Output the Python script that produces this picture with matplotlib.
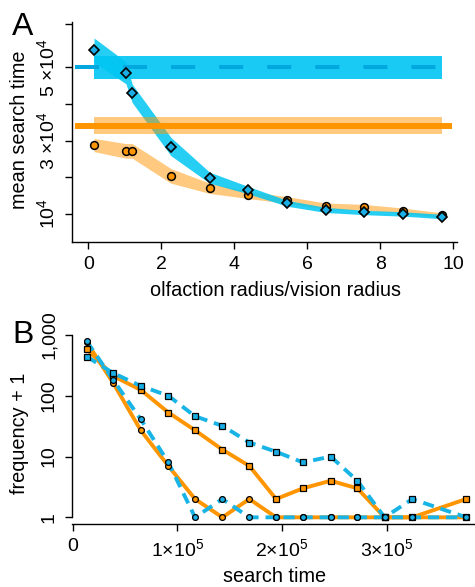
import matplotlib
matplotlib.use('Agg')
import matplotlib.pyplot as plt
from matplotlib.ticker import NullLocator

plt.rcParams['font.family'] = ['Liberation Sans', 'DejaVu Sans']
plt.rcParams['mathtext.fontset'] = 'custom'
plt.rcParams['mathtext.rm'] = 'Liberation Sans'
plt.rcParams['mathtext.it'] = 'Liberation Sans:italic'
plt.rcParams['mathtext.bf'] = 'Liberation Sans:bold'
plt.rcParams['lines.scale_dashes'] = False
plt.rcParams['axes.linewidth'] = 1.0

# ---------------- Panel A data (mean search time, units of 1e4) ----------------
ratio = [0.155, 1.03, 1.2, 2.26, 3.32, 4.38, 5.45, 6.5, 7.56, 8.63, 9.68]
diamond_mean = [5.47, 4.85, 4.29, 2.84, 1.99, 1.65, 1.29, 1.11, 1.04, 1.00, 0.93]
diamond_hw = [0.33, 0.30, 0.25, 0.25, 0.15, 0.10, 0.08, 0.07, 0.06, 0.06, 0.06]
circle_mean = [2.88, 2.72, 2.72, 2.04, 1.70, 1.52, 1.38, 1.22, 1.18, 1.09, 0.97]
circle_hw = [0.18, 0.20, 0.20, 0.20, 0.14, 0.10, 0.09, 0.08, 0.08, 0.07, 0.06]
blue_ref = 5.0
blue_ref_lo, blue_ref_hi = 4.68, 5.32
orange_ref = 3.41
orange_ref_lo, orange_ref_hi = 3.17, 3.65
ref_line_x = [-0.37, 9.95]
A_yticks = [1, 2, 3, 4, 5, 6.18]
A_yticklabels = [r'$\mathregular{10^{4}}$', '', r'$\mathregular{3\ {\times}10^{4}}$', '',
                 r'$\mathregular{5\ {\times}10^{4}}$', '']
A_xticks = [0, 2, 4, 6, 8, 10]

# ---------------- Panel B data (frequency + 1 vs search time, x in 1e5) ----------------
search_time = [0.134, 0.389, 0.65, 0.914, 1.169, 1.43, 1.688, 1.943, 2.20, 2.465, 2.72, 2.98, 3.245, 3.76]
blue_squares = [440, 235, 145, 100, 46, 32, 17, 12, 8, 10, 4, 1, 2, 1]
orange_squares = [590, 210, 125, 53, 27, 13, 7, 2, 3, 4, 3, 1, 1, 2]
orange_circles = [760, 160, 27, 7, 2, 1, 2, 1, 1, 1, 1, 1, 1, 1]
blue_circles = [790, 180, 41, 8, 1, 2, 1, 1, 1, 1, 1, 1, 1, 1]
B_xticks = [0, 1, 2, 3]
B_xticklabels = ['0', r'$\mathregular{1{\times}10^{5}}$', r'$\mathregular{2{\times}10^{5}}$',
                 r'$\mathregular{3{\times}10^{5}}$']
B_yticks = [1, 10, 100, 1000]
B_yticklabels = ['1', '10', '100', '1,000']

BLUE = '#00c6f3'
BLUE_DASH = '#00a8df'
BLUE_MK = '#1aaee4'
ORANGE = '#ff9500'
BLUE_B = '#19b4e6'

TICK_FS = 14
LABEL_FS = 14.3

W, H = 475, 587
fig = plt.figure(figsize=(W / 100, H / 100), dpi=100)

def frac(l, t, r, b):
    return [l / W, 1 - b / H, (r - l) / W, (b - t) / H]

# ================= Panel A =================
ax = fig.add_axes(frac(71.7, 21.5, 456.7, 242.3))
xr = [ratio[0], ratio[-1]]
ax.fill_between(xr, [blue_ref_lo] * 2, [blue_ref_hi] * 2, color=BLUE, alpha=0.9, lw=0, zorder=1)
ax.fill_between(ratio, [m - h for m, h in zip(circle_mean, circle_hw)],
                [m + h for m, h in zip(circle_mean, circle_hw)],
                color=ORANGE, alpha=0.5, lw=0, zorder=1.5)
ax.fill_between(ratio, [m - h for m, h in zip(diamond_mean, diamond_hw)],
                [m + h for m, h in zip(diamond_mean, diamond_hw)],
                color=BLUE, alpha=0.85, lw=0, zorder=2)
ax.fill_between(xr, [orange_ref_lo] * 2, [orange_ref_hi] * 2, color=ORANGE, alpha=0.5, lw=0, zorder=3)
ax.plot(ref_line_x, [orange_ref] * 2, color=ORANGE, lw=4.3, solid_capstyle='butt', zorder=4)
ax.plot(ref_line_x, [blue_ref] * 2, color=BLUE_DASH, lw=2.9, dashes=(17.3, 17.3),
        dash_capstyle='butt', zorder=4)
ax.plot(ratio, circle_mean, 'o', ms=5.6, mfc=ORANGE, mec='black', mew=1.1, zorder=5)
ax.plot(ratio, diamond_mean, 'D', ms=5.4, mfc=BLUE_MK, mec='black', mew=1.2, zorder=6)

ax.set_xlim(-0.457, 10.09)
ax.set_ylim(0.227, 6.25)
ax.set_xticks(A_xticks)
ax.set_yticks(A_yticks)
ax.set_yticklabels(A_yticklabels)
ax.tick_params(direction='out', length=5, width=1, labelsize=TICK_FS, pad=5)
plt.setp(ax.get_yticklabels(), rotation=90, va='center')
for s in ['top', 'right']:
    ax.spines[s].set_visible(False)
ax.set_xlabel('olfaction radius/vision radius', fontsize=LABEL_FS)
ax.xaxis.set_label_coords((275 - 71.7) / 385, -(290 - 242.3) / 220.8)
ax.xaxis.label.set_va('center')
ax.set_ylabel('mean search time', fontsize=LABEL_FS)
ax.yaxis.set_label_coords((20 - 71.7) / 385, (242.3 - 130) / 220.8)
ax.yaxis.label.set_va('center')
fig.text(12 / W, 1 - 35 / H, 'A', fontsize=23, ha='left', va='baseline')

# ================= Panel B =================
bx = fig.add_axes(frac(71.7, 332.7, 475, 524))
bx.set_yscale('log')
bx.plot(search_time, orange_squares, '-', color=ORANGE, lw=2.8, zorder=2)
bx.plot(search_time, orange_circles, '-', color=ORANGE, lw=2.8, zorder=2)
bx.plot(search_time, blue_squares, color=BLUE_B, lw=2.8, dashes=(8, 5), zorder=3)
bx.plot(search_time, blue_circles, color=BLUE_B, lw=2.8, dashes=(8, 5), zorder=3)
bx.plot(search_time, orange_squares, 's', ms=4.5, mfc=ORANGE, mec='black', mew=0.9, zorder=4)
bx.plot(search_time, blue_squares, 's', ms=4.5, mfc=BLUE_MK, mec='black', mew=0.9, zorder=4.1)
bx.plot(search_time, orange_circles, 'o', ms=4.2, mfc=ORANGE, mec='black', mew=0.9, zorder=4.2)
bx.plot(search_time, blue_circles, 'o', ms=4.2, mfc=BLUE_MK, mec='black', mew=0.9, zorder=4.3)

bx.set_xlim(-0.0096, 3.844)
bx.set_ylim(0.777, 1089)
bx.set_xticks(B_xticks)
bx.set_xticklabels(B_xticklabels)
bx.set_yticks(B_yticks)
bx.set_yticklabels(B_yticklabels)
bx.yaxis.set_minor_locator(NullLocator())
bx.tick_params(direction='out', length=5, width=1, labelsize=TICK_FS, pad=5)
plt.setp(bx.get_yticklabels(), rotation=90, va='center')
for s in ['top', 'right']:
    bx.spines[s].set_visible(False)
bx.spines['left'].set_bounds(1, 1000)
bx.set_xlabel('search time', fontsize=LABEL_FS)
bx.xaxis.set_label_coords((275 - 71.7) / 403.3, -(576 - 524) / 191.3)
bx.xaxis.label.set_va('center')
bx.set_ylabel('frequency + 1', fontsize=LABEL_FS)
bx.yaxis.set_label_coords((20 - 71.7) / 403.3, (524 - 433) / 191.3)
bx.yaxis.label.set_va('center')
fig.text(12 / W, 1 - 343 / H, 'B', fontsize=23, ha='left', va='baseline')

fig.savefig('out.png', dpi=100)
